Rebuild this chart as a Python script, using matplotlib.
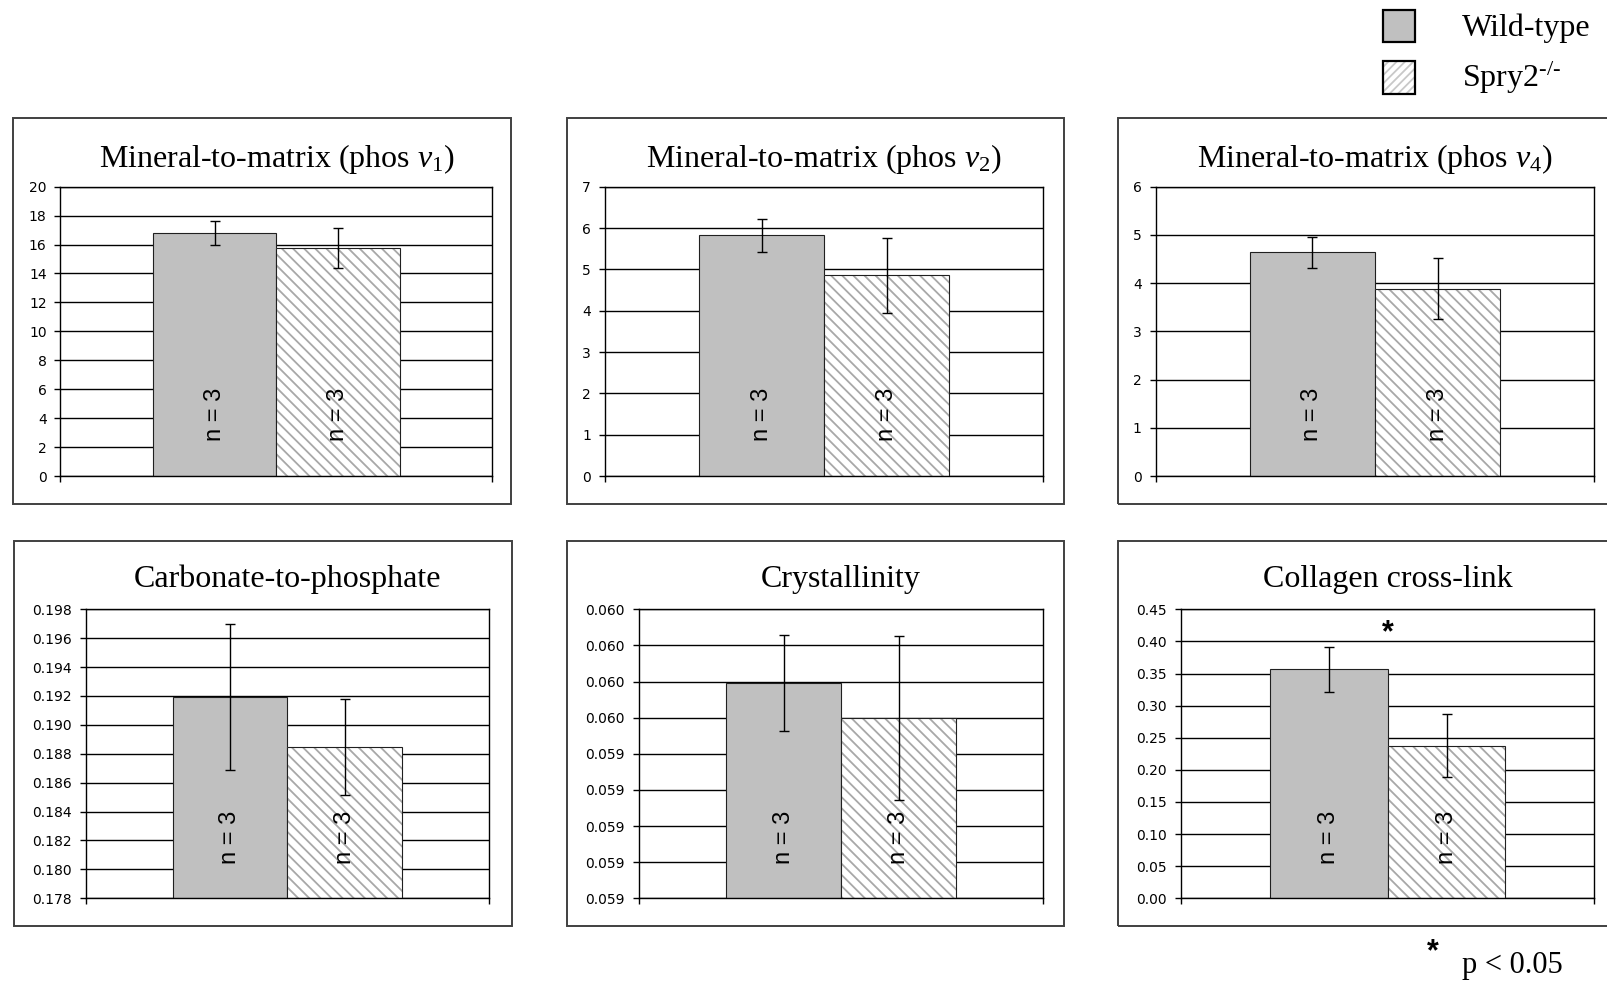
import numpy as np
import matplotlib
matplotlib.use("Agg")
import matplotlib.pyplot as plt
from matplotlib.patches import Rectangle
from matplotlib.transforms import blended_transform_factory

plt.rcParams['font.family'] = ['Liberation Serif', 'DejaVu Serif']
plt.rcParams['mathtext.fontset'] = 'custom'
plt.rcParams['mathtext.rm'] = 'Liberation Serif'
plt.rcParams['mathtext.it'] = 'Liberation Serif:italic'
plt.rcParams['mathtext.bf'] = 'Liberation Serif:bold'
plt.rcParams['hatch.linewidth'] = 1.3

# ---- data -------------------------------------------------------------
titles = [
    r'Mineral-to-matrix (phos $\nu_1$)',
    r'Mineral-to-matrix (phos $\nu_2$)',
    r'Mineral-to-matrix (phos $\nu_4$)',
    'Carbonate-to-phosphate',
    'Crystallinity',
    'Collagen cross-link',
]
wt_mean = [16.78, 5.83, 4.64, 0.19190, 0.059992, 0.3566]
wt_err = [0.82, 0.40, 0.32, 0.00505, 0.000265, 0.035]
ko_mean = [15.74, 4.86, 3.885, 0.18845, 0.059797, 0.2372]
ko_err = [1.38, 0.91, 0.63, 0.00332, 0.000453, 0.049]
n_labels = ['n = 3', 'n = 3']

yticks = [
    np.arange(0, 21, 2),
    np.arange(0, 8, 1),
    np.arange(0, 7, 1),
    np.linspace(0.178, 0.198, 11),
    np.linspace(0.0588, 0.0604, 9),
    np.linspace(0.0, 0.45, 10),
]
yticklabels = [
    ['0', '2', '4', '6', '8', '10', '12', '14', '16', '18', '20'],
    ['0', '1', '2', '3', '4', '5', '6', '7'],
    ['0', '1', '2', '3', '4', '5', '6'],
    ['0.178', '0.180', '0.182', '0.184', '0.186', '0.188', '0.190',
     '0.192', '0.194', '0.196', '0.198'],
    ['0.059', '0.059', '0.059', '0.059', '0.059',
     '0.060', '0.060', '0.060', '0.060'],
    ['0.00', '0.05', '0.10', '0.15', '0.20', '0.25', '0.30', '0.35',
     '0.40', '0.45'],
]
significant = [False, False, False, False, False, True]
legend_labels = ['Wild-type', r'Spry2$^{\text{-/-}}$']

# ---- layout (pixels) --------------------------------------------------
W, H = 1608, 984
axes_px = [  # left, top, right, bottom
    (60.5, 186.7, 492.5, 476.0),
    (605.0, 186.7, 1043.3, 476.0),
    (1155.7, 186.7, 1594.3, 476.0),
    (86.0, 609.3, 489.0, 898.3),
    (639.0, 609.3, 1043.3, 898.3),
    (1181.0, 609.3, 1594.3, 898.3),
]
frames_px = [
    (13.0, 118.3, 511.0, 503.5),
    (567.3, 118.3, 1064.5, 503.5),
    (1118.3, 118.3, 1625.0, 503.5),
    (14.0, 541.0, 511.7, 926.0),
    (567.3, 541.0, 1064.5, 926.0),
    (1118.3, 541.0, 1625.0, 926.0),
]
title_gap = [14.4, 14.4, 14.4, 16.0, 16.0, 16.0]

WT_COLOR = '#C0C0C0'
HATCH_COLOR = '#A8A8A8'
bar_w = 0.285

fig = plt.figure(figsize=(W / 100, H / 100), dpi=100)


def fig_rect(l, t, r, b):
    return [l / W, 1 - b / H, (r - l) / W, (b - t) / H]


for fl, ft, fr, fb in frames_px:
    fig.patches.append(Rectangle((fl / W, 1 - fb / H), (fr - fl) / W, (fb - ft) / H,
                                 transform=fig.transFigure, fill=False,
                                 edgecolor='#404040', lw=1.4, clip_on=False))

for i in range(6):
    ax = fig.add_axes(fig_rect(*axes_px[i]))
    ax.set_xlim(-0.5, 0.5)
    base = yticks[i][0]
    ax.set_ylim(base, yticks[i][-1])

    ax.bar(-bar_w / 2, wt_mean[i] - base, bar_w, bottom=base,
           color=WT_COLOR, edgecolor='#202020', lw=0.8, zorder=2)
    ax.bar(bar_w / 2, ko_mean[i] - base, bar_w, bottom=base, color='white',
           edgecolor=HATCH_COLOR, hatch='\\\\\\', lw=0, zorder=2)
    ax.bar(bar_w / 2, ko_mean[i] - base, bar_w, bottom=base, fill=False,
           edgecolor='#202020', lw=0.8, zorder=3)

    ax.errorbar([-bar_w / 2, bar_w / 2], [wt_mean[i], ko_mean[i]],
                yerr=[wt_err[i], ko_err[i]], fmt='none', ecolor='black',
                elinewidth=1, capsize=3.5, capthick=1, zorder=4)

    trans = blended_transform_factory(ax.transData, ax.transAxes)
    for x, lab in zip([-bar_w / 2, bar_w / 2], n_labels):
        ax.text(x, 0.12, lab, transform=trans, rotation=90, ha='center', va='bottom',
                family='Liberation Sans', fontsize=17, zorder=5)

    ax.set_yticks(yticks[i])
    ax.set_yticklabels(yticklabels[i], family='DejaVu Sans', fontsize=10)
    ax.set_xticks([-0.5, 0.5])
    ax.set_xticklabels([])
    ax.tick_params(direction='out', length=4, width=1, color='black', pad=6)
    ax.yaxis.grid(True, color='black', lw=1)
    ax.set_axisbelow(True)
    for sp in ax.spines.values():
        sp.set_color('black')
        sp.set_linewidth(1)

    ax.annotate(titles[i], xy=(0.5, 1), xycoords='axes fraction',
                xytext=(0, title_gap[i]), textcoords='offset points',
                ha='center', va='baseline', fontsize=23)

    if significant[i]:
        ax.text(0, 0.40, '*', ha='center', va='baseline', family='Liberation Sans',
                fontweight='bold', fontsize=22)

# ---- legend -----------------------------------------------------------
sq_l, sq_w = 1382.7, 32.3
fig.patches.append(Rectangle((sq_l / W, 1 - 42.3 / H), sq_w / W, 32.3 / H,
                             transform=fig.transFigure, facecolor=WT_COLOR,
                             edgecolor='black', lw=1.6))
fig.patches.append(Rectangle((sq_l / W, 1 - 94.3 / H), sq_w / W, 33.3 / H,
                             transform=fig.transFigure, facecolor='white',
                             edgecolor='#C8C8C8', hatch='////', lw=0))
fig.patches.append(Rectangle((sq_l / W, 1 - 94.3 / H), sq_w / W, 33.3 / H,
                             transform=fig.transFigure, fill=False,
                             edgecolor='black', lw=1.6))
fig.text(1461.7 / W, 1 - 35.7 / H, legend_labels[0], fontsize=23, va='baseline')
fig.text(1461.7 / W, 1 - 86.5 / H, legend_labels[1], fontsize=23, va='baseline')

fig.text(1433 / W, 1 - 960 / H, '*', ha='center', va='baseline',
         family='Liberation Sans', fontweight='bold', fontsize=22)
fig.text(1461.7 / W, 1 - 973.3 / H, 'p < 0.05', fontsize=22, va='baseline')

fig.savefig('out.png', dpi=100)
